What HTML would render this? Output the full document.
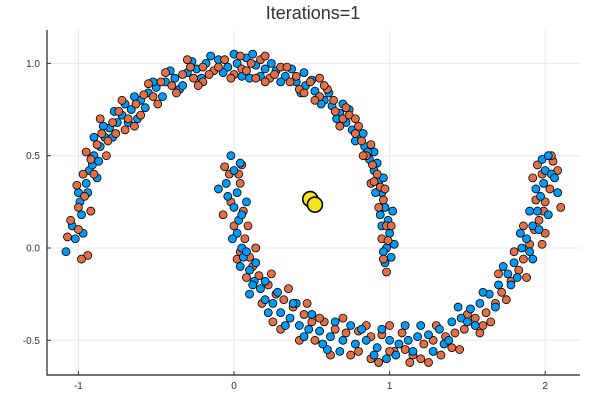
<!DOCTYPE html>
<html><head><meta charset="utf-8"><style>
html,body{margin:0;padding:0;background:#fff;width:600px;height:400px;overflow:hidden}
svg{display:block;font-family:"Liberation Sans",sans-serif}
</style></head><body>
<svg id="chart" width="600" height="400" viewBox="0 0 600 400">
<rect width="600" height="400" fill="#fff"/>
<text x="313" y="19" text-anchor="middle" font-size="18" fill="#333">Iterations=1</text>
<g id="grid"></g>
<g id="pts"></g>
<g id="axes"></g>
</svg>
<script>
const xTicks=[-1,0,1,2];
const xTickLabels=["-1","0","1","2"];
const yTicks=[-0.5,0,0.5,1.0];
const yTickLabels=["-0.5","0.0","0.5","1.0"];
const blueUpper=[[-1.02,0.05],[-0.98,0.18],[-1.0,0.3],[-0.95,0.35],[-0.93,0.42],[-0.9,0.5],[-0.86,0.55],[-0.83,0.6],[-0.8,0.65],[-0.75,0.68],[-0.72,0.72],[-0.66,0.75],[-0.6,0.8],[-0.55,0.84],[-0.5,0.87],[-0.44,0.9],[-0.38,0.92],[-0.3,0.95],[-0.24,0.97],[-0.18,1.0],[-0.1,1.02],[-0.04,0.98],[0.02,1.0],[0.08,1.03],[0.14,0.99],[0.2,0.97],[0.27,0.96],[0.33,0.93],[0.4,0.9],[0.46,0.88],[0.52,0.85],[0.58,0.8],[0.63,0.77],[0.68,0.73],[0.72,0.68],[0.76,0.64],[0.8,0.6],[0.84,0.55],[0.87,0.48],[0.9,0.42],[0.93,0.36],[0.95,0.3],[0.97,0.22],[0.99,0.15],[1.0,0.08],[0.98,0.0],[1.01,-0.05],[0.97,-0.08],[-1.08,-0.02],[-0.97,0.08],[-0.9,0.6],[-0.7,0.78],[-0.35,0.86],[0.1,0.92],[0.45,0.95],[0.7,0.78],[0.9,0.52],[0.94,0.18],[-0.88,0.38],[-0.62,0.7],
[-1.04,0.12],[-0.99,0.25],[-0.94,0.3],[-0.91,0.45],[-0.87,0.47],[-0.84,0.66],[-0.78,0.6],[-0.77,0.74],[-0.68,0.68],[-0.64,0.82],[-0.57,0.76],[-0.52,0.9],[-0.46,0.82],[-0.41,0.96],[-0.33,0.88],[-0.27,1.01],[-0.21,0.92],[-0.15,1.04],[-0.07,0.95],[0.0,1.05],[0.05,0.93],[0.12,1.05],[0.17,0.93],[0.24,1.0],[0.3,0.9],[0.37,0.97],[0.43,0.84],[0.5,0.91],[0.56,0.78],[0.61,0.84],[0.66,0.7],[0.74,0.75],[0.78,0.58],[0.83,0.62],[0.86,0.52],[0.92,0.46],[0.91,0.3],[0.96,0.38],[0.95,0.12],[1.02,0.2],[0.96,-0.02],[1.03,0.02]];
const orangeUpper=[[-1.05,0.15],[-1.0,0.22],[-0.96,0.28],[-0.97,0.4],[-0.92,0.48],[-0.88,0.56],[-0.85,0.62],[-0.78,0.68],[-0.74,0.74],[-0.68,0.7],[-0.63,0.78],[-0.58,0.83],[-0.52,0.82],[-0.47,0.9],[-0.4,0.88],[-0.33,0.94],[-0.26,0.92],[-0.2,0.98],[-0.13,0.96],[-0.06,1.02],[0.0,0.94],[0.05,0.97],[0.11,1.0],[0.17,1.02],[0.23,0.92],[0.3,0.98],[0.36,0.9],[0.42,0.86],[0.49,0.9],[0.55,0.82],[0.6,0.86],[0.65,0.74],[0.7,0.7],[0.74,0.72],[0.78,0.62],[0.82,0.58],[0.85,0.5],[0.89,0.45],[0.92,0.4],[0.94,0.33],[0.96,0.26],[0.98,0.12],[0.95,0.05],[-1.0,0.1],[-0.94,-0.04],[-0.92,0.2],[-0.82,0.5],[-0.64,0.66],[-0.3,1.02],[-0.2,0.9],[0.2,0.9],[0.55,0.92],[0.78,0.7],[0.88,0.35],[-0.98,-0.06],[-0.76,0.62],[0.98,-0.13],
[-1.07,0.06],[-1.01,0.34],[-0.95,0.52],[-0.9,0.4],[-0.86,0.7],[-0.81,0.58],[-0.72,0.8],[-0.7,0.64],[-0.6,0.72],[-0.55,0.89],[-0.49,0.78],[-0.44,0.95],[-0.37,0.84],[-0.28,0.98],[-0.23,0.88],[-0.16,0.94],[-0.1,0.98],[-0.02,0.92],[0.04,1.04],[0.08,0.96],[0.14,0.92],[0.2,1.04],[0.26,0.94],[0.34,0.98],[0.4,0.93],[0.45,0.84],[0.52,0.8],[0.58,0.88],[0.64,0.8],[0.68,0.66],[0.72,0.76],[0.8,0.66],[0.83,0.5],[0.88,0.56],[0.9,0.36],[0.97,0.32],[0.93,0.22],[1.01,0.12],[0.99,0.04],[0.96,-0.06]];
const blueLower=[[-0.02,0.5],[0.0,0.42],[-0.05,0.35],[0.02,0.3],[0.0,0.22],[0.03,0.15],[0.02,0.08],[0.05,0.0],[0.06,-0.05],[0.1,-0.12],[0.13,-0.18],[0.17,-0.22],[0.2,-0.28],[0.25,-0.3],[0.3,-0.35],[0.36,-0.38],[0.42,-0.42],[0.48,-0.44],[0.55,-0.45],[0.62,-0.48],[0.7,-0.5],[0.78,-0.52],[0.85,-0.5],[0.92,-0.54],[1.0,-0.5],[1.06,-0.52],[1.12,-0.5],[1.18,-0.48],[1.25,-0.47],[1.32,-0.44],[1.4,-0.4],[1.46,-0.38],[1.52,-0.33],[1.58,-0.3],[1.64,-0.25],[1.7,-0.2],[1.76,-0.14],[1.8,-0.08],[1.85,0.0],[1.88,0.05],[1.92,0.12],[1.95,0.2],[1.97,0.28],[1.99,0.35],[2.0,0.42],[2.04,0.4],[1.98,0.48],[-0.1,0.32],[0.08,0.25],[0.4,-0.3],[0.75,-0.42],[1.1,-0.42],[1.5,-0.4],[1.9,-0.02],[2.08,0.3],[0.12,-0.2],[0.98,-0.6],[1.35,-0.52],[0.6,-0.55],[1.78,-0.2],
[0.04,0.46],[-0.04,0.28],[0.05,0.18],[-0.01,0.05],[0.08,-0.02],[0.04,-0.1],[0.14,-0.08],[0.1,-0.25],[0.2,-0.18],[0.22,-0.35],[0.28,-0.24],[0.33,-0.42],[0.38,-0.3],[0.45,-0.48],[0.5,-0.36],[0.57,-0.52],[0.65,-0.4],[0.68,-0.56],[0.82,-0.44],[0.9,-0.58],[0.95,-0.44],[1.04,-0.58],[1.15,-0.56],[1.2,-0.42],[1.28,-0.56],[1.38,-0.5],[1.44,-0.32],[1.55,-0.42],[1.6,-0.24],[1.68,-0.32],[1.73,-0.1],[1.82,-0.16],[1.84,0.08],[1.92,-0.06],[1.9,0.2],[2.02,0.18],[1.94,0.32],[2.06,0.38],[2.02,0.5],[1.96,0.1]];
const orangeLower=[[0.05,0.45],[-0.03,0.4],[0.04,0.35],[-0.02,0.25],[0.06,0.2],[0.0,0.12],[0.07,0.05],[0.04,-0.02],[0.1,-0.05],[0.12,-0.1],[0.16,-0.15],[0.22,-0.2],[0.27,-0.25],[0.32,-0.28],[0.38,-0.32],[0.45,-0.36],[0.5,-0.4],[0.58,-0.4],[0.65,-0.44],[0.72,-0.46],[0.8,-0.45],[0.88,-0.48],[0.95,-0.47],[1.03,-0.56],[1.1,-0.55],[1.15,-0.58],[1.22,-0.52],[1.28,-0.5],[1.36,-0.48],[1.42,-0.46],[1.48,-0.44],[1.55,-0.38],[1.62,-0.35],[1.68,-0.3],[1.72,-0.24],[1.78,-0.18],[1.83,-0.12],[1.86,-0.06],[1.9,0.02],[1.93,0.1],[1.96,0.15],[2.0,0.25],[2.03,0.32],[1.98,0.4],[2.05,0.47],[0.25,-0.4],[0.52,-0.5],[0.8,-0.56],[1.0,-0.42],[1.25,-0.62],[1.6,-0.42],[1.98,0.02],[2.1,0.22],[0.88,-0.6],[1.45,-0.55],[1.95,0.45],
[-0.06,0.44],[0.03,0.4],[-0.07,0.18],[0.09,0.12],[0.02,-0.06],[0.14,0.0],[0.08,-0.16],[0.18,-0.3],[0.24,-0.14],[0.3,-0.44],[0.35,-0.22],[0.42,-0.5],[0.47,-0.3],[0.55,-0.38],[0.62,-0.58],[0.7,-0.38],[0.75,-0.58],[0.85,-0.42],[0.93,-0.62],[1.0,-0.56],[1.08,-0.46],[1.13,-0.62],[1.2,-0.6],[1.3,-0.42],[1.33,-0.58],[1.4,-0.54],[1.5,-0.36],[1.58,-0.46],[1.65,-0.4],[1.7,-0.14],[1.75,-0.28],[1.8,-0.02],[1.88,-0.16],[1.86,0.12],[1.94,0.26],[2.0,0.08],[2.08,0.42],[1.92,0.38],[2.04,0.5],[1.99,0.2]];
const centroids=[[0.49,0.265],[0.52,0.235]];

const L=47,R=580,T=30,B=375;
function sx(v){return 234+v*155.6;}
function sy(v){return 248-v*184.6;}
const NS="http://www.w3.org/2000/svg";
function mk(tag,attrs,parent){const e=document.createElementNS(NS,tag);for(const k in attrs)e.setAttribute(k,attrs[k]);parent.appendChild(e);return e;}
const grid=document.getElementById('grid'),axes=document.getElementById('axes'),pts=document.getElementById('pts');
xTicks.forEach((t,i)=>{
  const g=mk('line',{x1:sx(t),x2:sx(t),y1:T,y2:B,stroke:'#e8e8e8','stroke-width':1},grid);
  
  
  const tk=mk('line',{x1:sx(t),x2:sx(t),y1:B,y2:B-4,stroke:'#333','stroke-width':1},axes);
  
  
  const lb=mk('text',{x:sx(t),y:B+14,'text-anchor':'middle','font-size':10,fill:'#333'},axes);
  lb.textContent=xTickLabels[i];
  
  
});
yTicks.forEach((t,i)=>{
  const g=mk('line',{x1:L,x2:R,y1:sy(t),y2:sy(t),stroke:'#e8e8e8','stroke-width':1},grid);
  
  
  const tk=mk('line',{x1:L,x2:L+4,y1:sy(t),y2:sy(t),stroke:'#333','stroke-width':1},axes);
  
  
  const lb=mk('text',{x:L-7,y:sy(t)+3.5,'text-anchor':'end','font-size':10,fill:'#333'},axes);
  lb.textContent=yTickLabels[i];
  
  
});
const ax=mk('path',{d:`M${L},${T} V${B} H${R}`,fill:'none',stroke:'#222','stroke-width':1.2},axes);


function draw(arr,color,name,r,sw){
  arr.forEach(p=>{
    const c=mk('circle',{cx:sx(p[0]),cy:sy(p[1]),r:r,fill:color,stroke:'#000','stroke-width':sw},pts);
    
    
  });
}
draw(blueUpper,'#009af9','blue-point',4,0.8);
draw(orangeLower,'#e26f46','orange-point',4,0.8);
draw(orangeUpper,'#e26f46','orange-point',4,0.8);
draw(blueLower,'#009af9','blue-point',4,0.8);
draw(centroids,'#f4e41c','centroid',7.5,1.6);
</script>
</body></html>
